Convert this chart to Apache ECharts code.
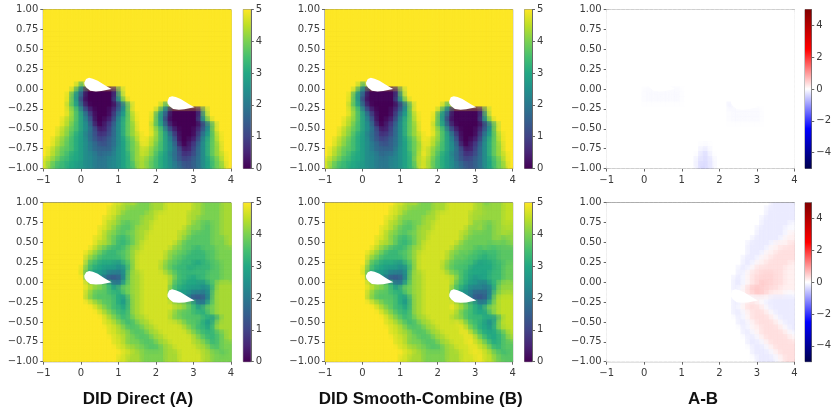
<!DOCTYPE html>
<html><head><meta charset="utf-8">
<style>html,body{margin:0;padding:0;background:#fff}#c{width:834px;height:408px}</style>
<script src="https://cdn.jsdelivr.net/npm/echarts@6/dist/echarts.min.js"></script></head>
<body><div id="c"></div>
<script>
// Field on a 40 x 32 cell lattice. One hex digit per cell: value = digit / 3 (f = 5).
const directTop = [
"ffffffffffffffffffffff ffffffffffffffffff","ffffffffffffffffffffff ffffffffffffffffff","ffffffffffffffffffffff ffffffffffffffffff","ffffffffffffffffffffff ffffffffffffffffff",
"ffffffffffffffffffffff ffffffffffffffffff","ffffffffffffffffffffff ffffffffffffffffff","ffffffffffffffffffffff ffffffffffffffffff","ffffffffffffffffffffff ffffffffffffffffff",
"ffffffffffffffffffffff ffffffffffffffffff","ffffffffffffffffffffff ffffffffffffffffff","ffffffffffffffffffffff ffffffffffffffffff","ffffffffffffffffffffff ffffffffffffffffff",
"ffffffffffffffffffffff ffffffffffffffffff","ffffffffffffffffffffff ffffffffffffffffff","ffffffffffffffffffffff ffffffffffffffffff",
"fffffffd9fffffffffffff ffffffffffffffffff",
"ffffffd850000002cfffff ffffffffffffffffff",
"fffffe9730000003bfffff ffffffffffffffffff",
"fffffea7200000049dffff ffffffffffffffffff",
"fffffda84100000147cfff fffd9fffffffffffff",
"fffffeca6310001369dfff ffd850000002cfffff",
"fffffeca8520001479ceff fe9730000003bfffff",
"ffffedca863001258aceff fea7200000049dffff",
"ffffedba874102368acdff fda84100000147cfff",
"fffedcba875312468acdff feca6310001369dfff",
"fffedca9865323468acdef feca8520001479ceff",
"ffedcba98754345689bcef edca863001258aceff",
"ffedcba98765445689bcdf edba874102368acdff",
"fedcbba98765555789bcde dcba875312468acdff",
"fedcba998776566789acde dca9865323468acdef",
"edcbaa998776667789acdd cba98754345689bcef",
"ecbaa9988776667789abdd cba98765445689bcdf"];
const directBottom = [
"ffffffffff fffffeeddd cccdddeeee eeddccccdd",
"ffffffffff ffffeeddcc cccdddeeee eeddccccdd",
"ffffffffff ffffeedccc ccddeeeeee edddccccdd",
"ffffffffff fffeedcccc cdddeeeeee eddcccccdd",
"ffffffffff fffeddcbbc cddeeeeeee edccbbccdd",
"ffffffffff ffeedcbbbc dddeeeeeee dcccbbccdd",
"ffffffffff ffedccbbcc ddeeeeeeed dcbbbbccdd",
"ffffffffff feedcbaabc ddeeeeeeed cbbbbbcccd",
"ffffffffff feddcbaabc deeeeeeedc bbbbbbcccd",
"ffffffffff edcbaaabcd deeeeeedcc bbaabbbccc",
"fffffffffe dcbaaabbcd eeeeeedccb baaaabbccc",
"fffffffffd cbaaaaabcd eeeeeedcbb aaaaabbccc",
"fffffffffc aa99988abd eeeeedcbba aa99aabbcc",
"ffffffffeb a9988878bd eeeeedcbaa a9aaaabbcc",
"ffffffffea 98876668cd deeeeedcba aaaaabbbcc",
"fffffffffb 98754458cd deeeeeedba a99aabbbcc",
"fffffffffe ddcb967acd deeeeeecaa 99988abddd",
"fffffffffe dccba9bccd deeeeeeba9 988878bddd",
"fffffffffd cbbbaa9bcd deeeeeea98 876668cddd",
"fffffffffd cbbbba98bd deeeeeeb98 754458cddd",
"ffffffffff edcbba98bd deeeeeeedd cb967acddd",
"ffffffffff fedcbaa9bd deeeeeeedd cba9bccddd",
"ffffffffff ffedcbaabd deeeeeedcb bbaa9bcddd",
"ffffffffff fffedcbabc ddeeeeedcc bbbba98bdd",
"ffffffffff fffeedcbab cddeeeeeed cbba98bddd",
"ffffffffff ffffeedcbb bcddeeeeee dcbaa9bddd",
"ffffffffff ffffeeddcb bbcddeeeee edcbaaabcd",
"ffffffffff fffffeedcc bbbcddeeee eedcbaabcd",
"ffffffffff fffffeedcc cbbbcddeee eeddcbabcc",
"ffffffffff ffffffeedd ccbbbcddee eeeddcbbcc",
"ffffffffff fffffffeed dcccccddde eeeeddccbc",
"ffffffffff ffffffeedd dcccccddde eeeeddcccc"];
// A-B read from the third column. Each letter is one entry of diffLevels.
const diffLevels = {'.':0,a:-0.05,b:-0.2,c:-0.3,d:-0.4,p:0.05,q:0.15,r:0.3,s:0.4,t:0.55};
const e = "..........";
const diffTop = [
e+e+e+e,e+e+e+e,e+e+e+e,e+e+e+e,e+e+e+e,e+e+e+e,e+e+e+e,e+e+e+e,
e+e+e+e,e+e+e+e,e+e+e+e,e+e+e+e,e+e+e+e,e+e+e+e,e+e+e+e,e+e+e+e,
"........aa aaaaaa...."+e+e,"........aa aaaaaa...."+e+e,"........aa aaaaaa...."+e+e,
e+e+"......b..."+e,
e+e+"......aaaa aaa.......",e+e+"......aaaa aaa.......",e+e+"......aaaa aaa.......",
e+e+e+e,e+e+e+e,e+e+e+e,e+e+e+e,
e+e+"aa........"+e,
e+e+"bb........"+e,
e+".........a cca......."+e,
e+".........b ccb......."+e,
e+".........b dcb......."+e];
const p24 = e+e+"....";
const diffBottom = [
p24+"...........bbbbb",p24+"..........bbbbbb",p24+"..........bbbbbb",p24+".........bbbbbbb",
p24+".........bbbbbba",p24+"........bbbbbbaa",p24+"........bbbbbbaq",p24+".......bbbbbbaqq",
p24+"......bbbbbaqqqr",p24+"......bbbbaqqrrr",p24+"......bbbaqqrrrr",p24+".....bbbaqqrrrrr",
p24+".....bbaqqrrrrrq",p24+"....bbaqrrrrrrqq",p24+"....baqrrsssrrqq",p24+"...bbaqrssssrrqq",
p24+"...bbaqrstssrrqq",p24+"...baqsttssrrqqq",p24+"...aaqrstsrqqqaa",p24+"...bbaaaaaabbbbb",
p24+"...baqrrqabbbbbb",p24+"...baqrrrqabbbbb",p24+"...bbaqrrrqabbbb",p24+"....baqrrrrqabbb",
p24+"....bbaqrrrrqabb",p24+".....baqqrrrrqab",p24+".....bbaqrrrrrqa",p24+"......bbaqrrrrrq",
p24+"......bbbaqrrrrr",p24+".......bbbaqrrrr",p24+".......bbbbaqrrr",p24+"........bbbbaqrr"];
// Airfoil outlines in data coordinates (masked white in every panel).
const foilTop = [[0.09,0.08],[0.14,0.125],[0.22,0.14],[0.32,0.13],[0.45,0.105],[0.6,0.06],[0.72,0.025],[0.82,0.0],[0.68,-0.012],[0.55,-0.025],[0.4,-0.03],[0.25,-0.022],[0.15,0.015],[0.1,0.05]];
const foilBottom = [[2.31,-0.15],[2.35,-0.105],[2.43,-0.09],[2.53,-0.10],[2.66,-0.125],[2.81,-0.17],[2.93,-0.205],[3.03,-0.23],[2.89,-0.242],[2.76,-0.255],[2.61,-0.26],[2.46,-0.252],[2.36,-0.215],[2.31,-0.18]];
const xTicks = [-1,0,1,2,3,4];
const yTicks = [-1,-0.75,-0.5,-0.25,0,0.25,0.5,0.75,1];
const fieldTicks = [0,1,2,3,4,5];
const diffTicks = [-4,-2,0,2,4];
const columnTitles = ["DID Direct (A)","DID Smooth-Combine (B)","A-B"];
const viridis = ['#440154','#482475','#414487','#355f8d','#2a788e','#21918c','#22a884','#44bf70','#7ad151','#bddf26','#fde725'];
const seismic = ['#00004d','#0000ff','#ffffff','#ff0000','#800000'];

const NX=40, NY=32, X0=-1, DX=0.125, Y1=1, DY=0.0625;
const hex = rows => rows.map(r => Array.from(r.replace(/ /g,'')).map(c => parseInt(c,16)/3));
const lvl = rows => rows.map(r => Array.from(r.replace(/ /g,'')).map(c => diffLevels[c]));
const minus = s => String(s).replace('-','\u2212');
const cells = m => { const out=[]; m.forEach((row,j)=>row.forEach((v,i)=>out.push([X0+i*DX, Y1-j*DY, v]))); return out; };
const A1=hex(directTop), A2=hex(directBottom), D1=lvl(diffTop), D2=lvl(diffBottom);
// The third column is A-B by definition, so B is the read A field less the read difference.
const minusD=(a,d)=>a.map((r,j)=>r.map((v,i)=>Math.min(5,Math.max(0,v-(d[j][i]||0)))));
const B1=minusD(A1,D1), B2=minusD(A2,D2);

const colL=[43.3,325,606.7], cbL=[243.3,524.5,805], cbW=[7.5,7.5,9], rowT=[9.5,202.7], W=187.7, H=159;
const fields=[[A1,B1,D1],[A2,B2,D2]];
const foils=[foilTop,foilBottom];
const FG='#3a3a3a', SP='#666666', FONT='"DejaVu Sans"';
const grids=[],xAxes=[],yAxes=[],series=[],visualMaps=[],titles=[];
const rectItem=(params,api)=>{
  const a=api.coord([api.value(0),api.value(1)]), b=api.coord([api.value(0)+DX,api.value(1)-DY]);
  const c=api.visual('color');
  return {type:'rect',shape:{x:a[0],y:a[1],width:b[0]-a[0],height:b[1]-a[1]},style:{fill:c,stroke:c,lineWidth:0.7}};
};
// A second, translucent coat of the same cells, one half cell wider on each side, softens the lattice.
const softItem=(params,api)=>{
  const a=api.coord([api.value(0)-DX/2,api.value(1)+DY/2]), b=api.coord([api.value(0)+DX*1.5,api.value(1)-DY*1.5]);
  return {type:'rect',shape:{x:a[0],y:a[1],width:b[0]-a[0],height:b[1]-a[1]},style:{fill:api.visual('color'),opacity:0.42}};
};
const labelStyle={color:FG,fontFamily:FONT,fontSize:10};
for(let r=0;r<2;r++)for(let c=0;c<3;c++){
  const isDiff=c===2;
  const vmin=isDiff?-5:0,vmax=5,stops=isDiff?seismic:viridis;
  let g=grids.length;
  grids.push({left:colL[c],top:rowT[r],width:W,height:H,show:true,borderColor:SP,borderWidth:1,backgroundColor:'#fff',containLabel:false});
  xAxes.push({gridIndex:g,type:'value',min:-1,max:4,interval:1,splitLine:{show:false},
    axisLine:{onZero:false,lineStyle:{color:SP}},axisTick:{length:3,lineStyle:{color:SP}},
    axisLabel:Object.assign({margin:7,formatter:v=>minus(v),customValues:xTicks},labelStyle)});
  yAxes.push({gridIndex:g,type:'value',min:-1,max:1,interval:0.25,splitLine:{show:false},
    axisLine:{onZero:false,lineStyle:{color:SP}},axisTick:{length:3,lineStyle:{color:SP}},
    axisLabel:Object.assign({margin:5,formatter:v=>minus(v.toFixed(2)),customValues:yTicks},labelStyle)});
  const si=series.length;
  series.push({type:'custom',coordinateSystem:'cartesian2d',xAxisIndex:g,yAxisIndex:g,data:cells(fields[r][c]),
    encode:{x:0,y:1},renderItem:rectItem,silent:true,animation:false,progressive:0,clip:true,z:2});
  series.push({type:'custom',coordinateSystem:'cartesian2d',xAxisIndex:g,yAxisIndex:g,data:cells(fields[r][c]),
    encode:{x:0,y:1},renderItem:softItem,silent:true,animation:false,progressive:0,clip:true,z:2});
  visualMaps.push({show:false,type:'continuous',seriesIndex:[si,si+1],dimension:2,min:vmin,max:vmax,inRange:{color:stops}});
  foils.forEach(f=>series.push({type:'custom',coordinateSystem:'cartesian2d',xAxisIndex:g,yAxisIndex:g,data:[0],silent:true,animation:false,z:3,
    renderItem:(p,api)=>({type:'polygon',shape:{points:f.map(q=>api.coord(q))},style:{fill:'#fff'}})}));
  // colour bar
  g=grids.length;
  grids.push({left:cbL[c],top:rowT[r],width:cbW[c],height:H,show:true,borderColor:SP,borderWidth:0.8});
  xAxes.push({gridIndex:g,type:'value',min:0,max:1,show:false});
  const tks=isDiff?diffTicks:fieldTicks;
  yAxes.push({gridIndex:g,type:'value',position:'right',min:vmin,max:vmax,interval:1,splitLine:{show:false},
    axisLine:{show:true,onZero:false,lineStyle:{color:SP}},axisTick:{length:3,lineStyle:{color:SP},customValues:tks},
    axisLabel:Object.assign({margin:5,formatter:v=>minus(v),customValues:tks},labelStyle)});
  series.push({type:'custom',coordinateSystem:'cartesian2d',xAxisIndex:g,yAxisIndex:g,data:[0],silent:true,animation:false,z:2,
    renderItem:(p,api)=>{const a=api.coord([0,vmax]),b=api.coord([1,vmin]);
      const cs=stops.slice().reverse().map((col,i,arr)=>({offset:i/(arr.length-1),color:col}));
      return {type:'rect',shape:{x:a[0],y:a[1],width:b[0]-a[0],height:b[1]-a[1]},style:{fill:new echarts.graphic.LinearGradient(0,0,0,1,cs)}};}});
}
const titleX=[138,420.7,703];
columnTitles.forEach((t,i)=>titles.push({text:t,left:titleX[i],top:391,padding:0,textAlign:'center',textStyle:{fontFamily:'"Liberation Sans"',fontWeight:'bold',fontSize:17,color:'#111'}}));
const chart=echarts.init(document.getElementById('c'),null,{renderer:'canvas'});
chart.setOption({animation:false,backgroundColor:'#fff',title:titles,grid:grids,xAxis:xAxes,yAxis:yAxes,visualMap:visualMaps,series:series,tooltip:{show:false}});
</script></body></html>
